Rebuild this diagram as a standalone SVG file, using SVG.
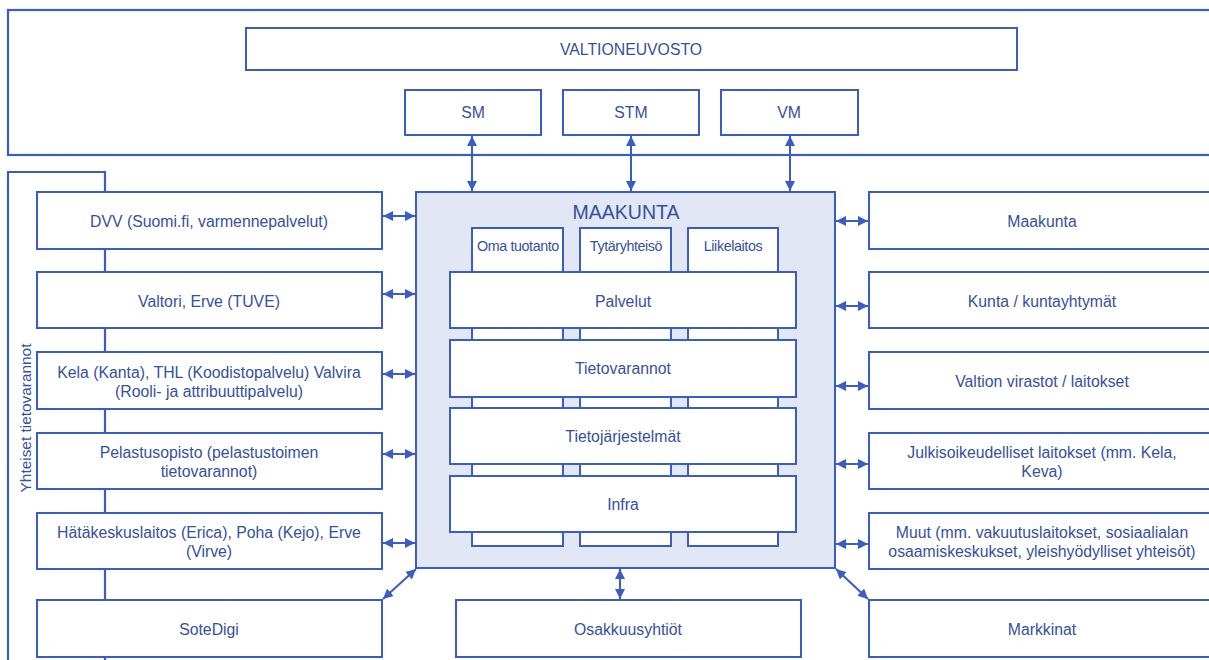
<svg xmlns="http://www.w3.org/2000/svg" width="1209" height="660" viewBox="0 0 1209 660">
<defs>
<marker id="ah" viewBox="0 0 10 10" refX="10" refY="5" markerWidth="10" markerHeight="10" markerUnits="userSpaceOnUse" orient="auto-start-reverse">
<path d="M0,0 L10,5 L0,10 Z" fill="#3a5cc5"/>
</marker>
</defs>
<style>
.b{fill:#fff;stroke:#3a5cc5;stroke-width:2}
.f{fill:none;stroke:#3a5cc5;stroke-width:2.2}
.t{font-family:"Liberation Sans",Arial,sans-serif;font-size:15.8px;fill:#34509e;text-anchor:middle;dominant-baseline:central}
.s{font-size:14.3px;letter-spacing:-0.4px}
.c{stroke:#3a5cc5;stroke-width:2;fill:none;marker-start:url(#ah);marker-end:url(#ah)}
</style>
<rect width="1209" height="660" fill="#fff"/>
<g id="frame-top"><rect class="f" x="8" y="10" width="1215" height="145"/></g>
<g id="frame-left">
<path class="f" d="M8,665 V172 H105 V665"/>
<text class="t" transform="translate(25,418) rotate(-90)" style="font-size:15.4px">Yhteiset tietovarannot</text>
</g>
<g id="valtioneuvosto"><rect class="b" x="246" y="28" width="771" height="42"/><text class="t" x="631" y="49">VALTIONEUVOSTO</text></g>
<g id="sm"><rect class="b" x="405" y="90" width="136" height="45"/><text class="t" x="473" y="112">SM</text></g>
<g id="stm"><rect class="b" x="563" y="90" width="136" height="45"/><text class="t" x="631" y="112">STM</text></g>
<g id="vm"><rect class="b" x="721" y="90" width="137" height="45"/><text class="t" x="789" y="112">VM</text></g>

<g id="maakunta-main">
<rect x="416" y="192" width="419" height="376" fill="#e1e7f5" stroke="#3a5cc5" stroke-width="2"/>
<text class="t" x="626" y="212" style="font-size:19.5px">MAAKUNTA</text>
<rect class="b" x="472" y="228" width="91" height="318"/>
<rect class="b" x="580" y="228" width="91" height="318"/>
<rect class="b" x="688" y="228" width="90" height="318"/>
<text class="t s" x="518" y="246">Oma tuotanto</text>
<text class="t s" x="626" y="246">Tytäryhteisö</text>
<text class="t s" x="733" y="246">Liikelaitos</text>
</g>
<g id="palvelut"><rect class="b" x="450" y="272" width="346" height="56"/><text class="t" x="623" y="301">Palvelut</text></g>
<g id="tietovarannot"><rect class="b" x="450" y="340" width="346" height="57"/><text class="t" x="623" y="368">Tietovarannot</text></g>
<g id="tietojarjestelmat"><rect class="b" x="450" y="408" width="346" height="56"/><text class="t" x="623" y="436">Tietojärjestelmät</text></g>
<g id="infra"><rect class="b" x="450" y="476" width="346" height="56"/><text class="t" x="623" y="504">Infra</text></g>

<g id="dvv"><rect class="b" x="37" y="192" width="345" height="57"/><text class="t" x="209" y="221">DVV (Suomi.fi, varmennepalvelut)</text></g>
<g id="valtori"><rect class="b" x="37" y="272" width="345" height="56"/><text class="t" x="209" y="301">Valtori, Erve (TUVE)</text></g>
<g id="kela"><rect class="b" x="37" y="352" width="345" height="57"/><text class="t" x="209" y="372">Kela (Kanta), THL (Koodistopalvelu) Valvira</text><text class="t" x="209" y="391">(Rooli- ja attribuuttipalvelu)</text></g>
<g id="pelastusopisto"><rect class="b" x="37" y="433" width="345" height="56"/><text class="t" x="209" y="452">Pelastusopisto (pelastustoimen</text><text class="t" x="209" y="471">tietovarannot)</text></g>
<g id="hatakeskus"><rect class="b" x="37" y="513" width="345" height="56"/><text class="t" x="209" y="532">Hätäkeskuslaitos (Erica), Poha (Kejo), Erve</text><text class="t" x="209" y="551">(Virve)</text></g>
<g id="sotedigi"><rect class="b" x="37" y="600" width="345" height="57"/><text class="t" x="209" y="629">SoteDigi</text></g>

<g id="r-maakunta"><rect class="b" x="869" y="192" width="350" height="57"/><text class="t" x="1042" y="221">Maakunta</text></g>
<g id="kunta"><rect class="b" x="869" y="272" width="350" height="56"/><text class="t" x="1042" y="301">Kunta / kuntayhtymät</text></g>
<g id="valtion"><rect class="b" x="869" y="352" width="350" height="57"/><text class="t" x="1042" y="381">Valtion virastot / laitokset</text></g>
<g id="julkis"><rect class="b" x="869" y="433" width="350" height="56"/><text class="t" x="1042" y="452">Julkisoikeudelliset laitokset (mm. Kela,</text><text class="t" x="1042" y="471">Keva)</text></g>
<g id="muut"><rect class="b" x="869" y="513" width="350" height="56"/><text class="t" x="1042" y="532">Muut (mm. vakuutuslaitokset, sosiaalialan</text><text class="t" x="1042" y="551">osaamiskeskukset, yleishyödylliset yhteisöt)</text></g>
<g id="markkinat"><rect class="b" x="869" y="600" width="350" height="57"/><text class="t" x="1042" y="629">Markkinat</text></g>
<g id="osakkuus"><rect class="b" x="456" y="600" width="345" height="57"/><text class="t" x="628" y="629">Osakkuusyhtiöt</text></g>

<g id="connectors">
<line class="c" x1="472" y1="136" x2="472" y2="191"/>
<line class="c" x1="631" y1="136" x2="631" y2="191"/>
<line class="c" x1="790" y1="136" x2="790" y2="191"/>
<line class="c" x1="383" y1="216" x2="415" y2="216"/>
<line class="c" x1="383" y1="294" x2="415" y2="294"/>
<line class="c" x1="383" y1="374" x2="415" y2="374"/>
<line class="c" x1="383" y1="454" x2="415" y2="454"/>
<line class="c" x1="383" y1="543" x2="415" y2="543"/>
<line class="c" x1="836" y1="221" x2="868" y2="221"/>
<line class="c" x1="836" y1="306" x2="868" y2="306"/>
<line class="c" x1="836" y1="386" x2="868" y2="386"/>
<line class="c" x1="836" y1="464" x2="868" y2="464"/>
<line class="c" x1="836" y1="544" x2="868" y2="544"/>
<line class="c" x1="416" y1="569" x2="383" y2="599"/>
<line class="c" x1="836" y1="569" x2="868" y2="599"/>
<line class="c" x1="620" y1="569" x2="620" y2="599"/>
</g>
</svg>
